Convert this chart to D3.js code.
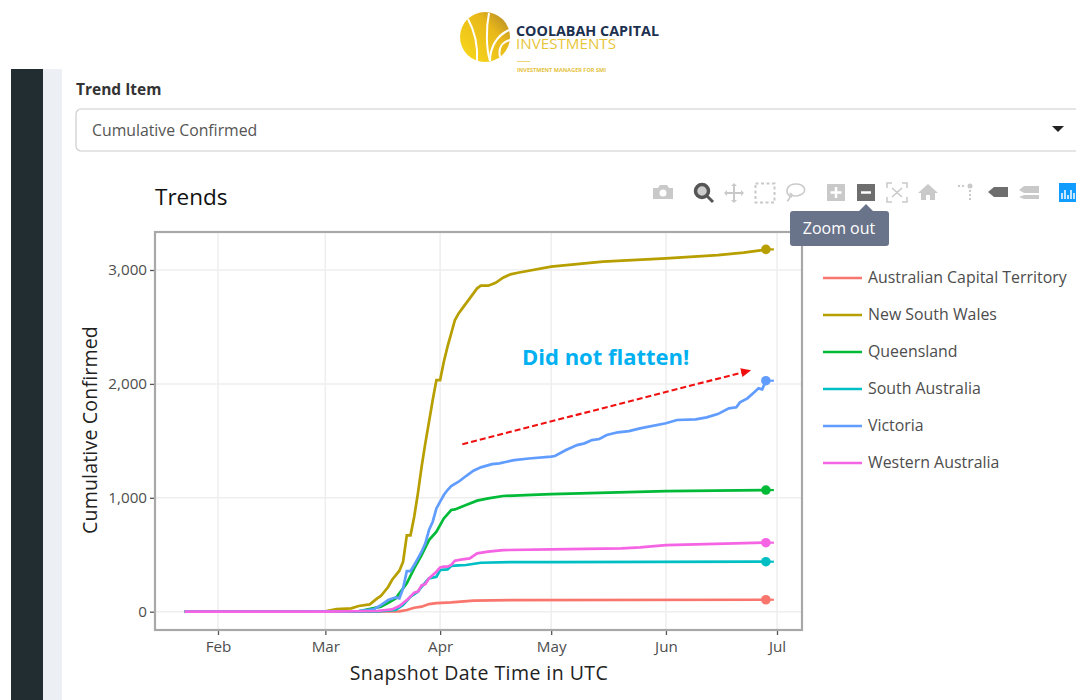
<!DOCTYPE html>
<html>
<head>
<meta charset="utf-8">
<script src="https://cdn.jsdelivr.net/npm/d3@7"></script>
<style>
    html, body { margin: 0; padding: 0; background: #fff; overflow: hidden; }
    text { font-family: "Open Sans", sans-serif; }
</style>
</head>
<body>
<div id="chart"></div>
<script>
// Values, dates are month-day in 2020
var seriesNames = ['Australian Capital Territory', 'New South Wales', 'Queensland', 'South Australia', 'Victoria', 'Western Australia'];
var seriesColors = ['#F8766D', '#B79F00', '#00BA38', '#00BFC4', '#619CFF', '#F564E3'];

var actDays = ['01-23', '03-01', '03-21', '03-23', '03-25', '03-27', '03-29', '03-31', '04-04', '04-10', '04-20', '06-28'];
var actValues = [0, 0, 3, 15, 35, 44, 67, 76, 82, 97, 102, 105];

var nswDays = ['01-23', '03-01', '03-04', '03-08', '03-10', '03-13', '03-15', '03-16', '03-18', '03-19', '03-21', '03-22', '03-23', '03-24', '03-25', '03-26', '03-27', '03-28', '03-29', '03-30', '03-31', '04-01', '04-02', '04-03', '04-04', '04-05', '04-06', '04-07', '04-09', '04-11', '04-12', '04-14', '04-16', '04-18', '04-20', '04-22', '05-01', '05-10', '05-15', '06-01', '06-15', '06-22', '06-27', '06-28'];
var nswValues = [0, 3, 23, 29, 50, 64, 117, 138, 219, 278, 360, 439, 670, 670, 834, 1039, 1273, 1478, 1668, 1858, 2034, 2034, 2195, 2327, 2444, 2561, 2619, 2663, 2751, 2839, 2862, 2862, 2888, 2932, 2962, 2976, 3029, 3058, 3073, 3102, 3131, 3152, 3175, 3181];

var qldDays = ['01-23', '03-01', '03-10', '03-16', '03-18', '03-20', '03-21', '03-23', '03-25', '03-27', '03-29', '03-31', '04-02', '04-04', '04-05', '04-08', '04-11', '04-14', '04-18', '04-24', '05-01', '06-01', '06-28'];
var qldValues = [0, 0, 3, 44, 79, 117, 161, 249, 380, 497, 629, 702, 819, 893, 898, 936, 975, 995, 1016, 1024, 1033, 1059, 1068];

var saDays = ['01-23', '03-01', '03-15', '03-20', '03-22', '03-24', '03-26', '03-27', '03-29', '03-31', '04-01', '04-03', '04-04', '04-06', '04-08', '04-12', '04-20', '05-01', '06-28'];
var saValues = [0, 0, 3, 15, 58, 132, 176, 219, 293, 307, 366, 372, 401, 407, 410, 430, 436, 436, 439];

var vicDays = ['01-23', '03-01', '03-10', '03-14', '03-16', '03-18', '03-20', '03-21', '03-22', '03-23', '03-24', '03-25', '03-26', '03-27', '03-28', '03-29', '03-30', '03-31', '04-01', '04-02', '04-03', '04-04', '04-06', '04-08', '04-10', '04-12', '04-15', '04-17', '04-19', '04-21', '04-25', '05-01', '05-02', '05-05', '05-08', '05-10', '05-12', '05-14', '05-16', '05-19', '05-22', '05-25', '06-01', '06-04', '06-09', '06-12', '06-15', '06-18', '06-20', '06-21', '06-23', '06-25', '06-26', '06-27', '06-28'];
var vicValues = [0, 3, 6, 20, 58, 102, 126, 117, 205, 357, 357, 410, 468, 527, 600, 717, 790, 907, 966, 1024, 1068, 1103, 1141, 1191, 1238, 1267, 1296, 1302, 1317, 1331, 1345, 1361, 1367, 1419, 1463, 1478, 1507, 1516, 1551, 1575, 1586, 1610, 1654, 1683, 1689, 1706, 1735, 1785, 1794, 1838, 1873, 1932, 1961, 1952, 2028];

var waDays = ['01-23', '03-01', '03-15', '03-19', '03-21', '03-23', '03-25', '03-26', '03-27', '03-28', '03-29', '03-31', '04-01', '04-02', '04-03', '04-04', '04-05', '04-07', '04-09', '04-11', '04-14', '04-18', '05-01', '05-20', '05-25', '06-01', '06-28'];
var waValues = [0, 0, 6, 20, 50, 102, 167, 176, 231, 243, 293, 351, 389, 395, 395, 410, 448, 459, 468, 512, 527, 541, 547, 556, 565, 585, 606];

var monthTicks = ['02-01', '03-01', '04-01', '05-01', '06-01', '07-01'];
var monthLabels = ['Feb', 'Mar', 'Apr', 'May', 'Jun', 'Jul'];
var valueTicks = [0, 1000, 2000, 3000];

var arrowDays = ['04-07', '06-24'];
var arrowValues = [1471, 2120];

var parseDay = (d) => d3.timeParse('%Y-%m-%d')('2020-' + d);

var allDays = [actDays, nswDays, qldDays, saDays, vicDays, waDays];
var allValues = [actValues, nswValues, qldValues, saValues, vicValues, waValues];
var series = seriesNames.map((name, i) => ({
    name: name,
    color: seriesColors[i],
    points: allDays[i].map((d, j) => ({date: parseDay(d), value: allValues[i][j]}))
}));

var svg = d3.select('#chart')
    .append('svg')
    .attr('width', 1076)
    .attr('height', 700)
    .style('display', 'block');

// Dashboard around the chart
svg.append('rect').attr('x', 11).attr('y', 69).attr('width', 32).attr('height', 631).attr('fill', '#222d32');
svg.append('rect').attr('x', 43).attr('y', 69).attr('width', 19).attr('height', 631).attr('fill', '#ecf0f5');

svg.append('text').text('Trend Item')
    .attr('x', 76).attr('y', 95)
    .attr('font-size', 15.5).attr('font-weight', 700).attr('fill', '#333');
svg.append('rect')
    .attr('x', 76).attr('y', 109).attr('width', 1040).attr('height', 42).attr('rx', 5)
    .attr('fill', '#fff').attr('stroke', '#ccc').attr('stroke-width', 1.2);
svg.append('text').text('Cumulative Confirmed')
    .attr('x', 92).attr('y', 136)
    .attr('font-size', 15.8).attr('fill', '#555');
svg.append('path').attr('d', 'M1052,126 h12 l-6,6 z').attr('fill', '#222');

svg.append('text').text('Trends')
    .attr('x', 155).attr('y', 205)
    .attr('font-size', 22.5).attr('fill', '#111');

// Logo
var logo = svg.append('g');
var gold = logo.append('defs').append('linearGradient').attr('id', 'gold')
    .attr('x1', 0).attr('x2', 1).attr('y1', 1).attr('y2', 0);
gold.append('stop').attr('offset', '0%').attr('stop-color', '#f9dc1c');
gold.append('stop').attr('offset', '65%').attr('stop-color', '#e8b81a');
gold.append('stop').attr('offset', '100%').attr('stop-color', '#a9822b');
logo.append('circle').attr('cx', 485).attr('cy', 37).attr('r', 25).attr('fill', 'url(#gold)');
['M477,61 C478,45 474,30 468,19', 'M490,61 C486,48 486,28 489,13', 'M490,61 C490,48 496,36 509,30', 'M500,57 C498,48 502,42 510,40'].forEach((d) => {
    logo.append('path').attr('d', d).attr('fill', 'none').attr('stroke', '#fff').attr('stroke-width', 2);
});
logo.append('text').text('COOLABAH CAPITAL')
    .attr('x', 516).attr('y', 36)
    .attr('font-size', 14.5).attr('font-weight', 700).attr('fill', '#1c3050')
    .attr('textLength', 143).attr('lengthAdjust', 'spacingAndGlyphs');
logo.append('text').text('INVESTMENTS')
    .attr('x', 516).attr('y', 49)
    .attr('font-size', 14.5).attr('fill', '#e8c63a')
    .attr('textLength', 100).attr('lengthAdjust', 'spacingAndGlyphs');
logo.append('rect').attr('x', 517).attr('y', 61).attr('width', 13).attr('height', 1).attr('fill', '#ecd67a');
logo.append('text').text('INVESTMENT MANAGER FOR SMI')
    .attr('x', 517).attr('y', 72)
    .attr('font-size', 5).attr('font-weight', 700).attr('fill', '#e3c23c')
    .attr('textLength', 89).attr('lengthAdjust', 'spacingAndGlyphs');

// Scales
var x = d3.scaleTime().domain([parseDay('02-01'), parseDay('07-01')]).range([218, 777]);
var y = d3.scaleLinear().domain([0, 3000]).range([611.7, 270]);

var plot = {left: 155, right: 802, top: 232, bottom: 630};

// Grid lines
svg.append('g').selectAll('line')
    .data(valueTicks)
    .enter()
    .append('line')
    .attr('x1', plot.left).attr('x2', plot.right)
    .attr('y1', (d) => y(d)).attr('y2', (d) => y(d))
    .attr('stroke', '#eeeeee').attr('stroke-width', 1.5);
svg.append('g').selectAll('line')
    .data(monthTicks)
    .enter()
    .append('line')
    .attr('x1', (d) => x(parseDay(d))).attr('x2', (d) => x(parseDay(d)))
    .attr('y1', plot.top).attr('y2', plot.bottom)
    .attr('stroke', '#eeeeee').attr('stroke-width', 1.5);

// Axes
var xAxis = d3.axisBottom(x)
    .tickValues(monthTicks.map(parseDay))
    .tickFormat((d, i) => monthLabels[i])
    .tickSize(5).tickPadding(6);
var yAxis = d3.axisLeft(y)
    .tickValues(valueTicks)
    .tickFormat(d3.format(','))
    .tickSize(5).tickPadding(3);

var xGroup = svg.append('g').attr('transform', 'translate(0,' + plot.bottom + ')').call(xAxis);
var yGroup = svg.append('g').attr('transform', 'translate(' + plot.left + ',0)').call(yAxis);
[xGroup, yGroup].forEach((g) => {
    g.select('.domain').remove();
    g.selectAll('line').attr('stroke', '#555').attr('stroke-width', 1.3);
    g.selectAll('text').attr('font-size', 15.2).attr('fill', '#4d4d4d').style('font-family', '"Open Sans", sans-serif');
});

svg.append('text').text('Snapshot Date Time in UTC')
    .attr('x', 479).attr('y', 680)
    .attr('text-anchor', 'middle')
    .attr('font-size', 19.5).attr('letter-spacing', 0.45).attr('fill', '#222');
svg.append('text').text('Cumulative Confirmed')
    .attr('transform', 'translate(97,430) rotate(-90)')
    .attr('text-anchor', 'middle')
    .attr('font-size', 19.5).attr('letter-spacing', 0.2).attr('fill', '#222');

// Lines with end markers
var line = d3.line().x((d) => x(d.date)).y((d) => y(d.value));

svg.append('g').selectAll('path')
    .data(series)
    .enter()
    .append('path')
    .attr('d', (d) => line(d.points))
    .attr('fill', 'none')
    .attr('stroke', (d) => d.color)
    .attr('stroke-width', 2.7);

var ends = svg.append('g').selectAll('g')
    .data(series)
    .enter()
    .append('g')
    .attr('transform', (d) => {
        var last = d.points[d.points.length - 1];
        return 'translate(' + x(last.date) + ',' + y(last.value) + ')';
    });
ends.append('circle').attr('r', 4.8).attr('fill', (d) => d.color);
ends.append('line').attr('x1', 0).attr('x2', 8)
    .attr('stroke', (d) => d.color).attr('stroke-width', 2.2);

// Frame on top of the grid
svg.append('rect')
    .attr('x', plot.left).attr('y', plot.top)
    .attr('width', plot.right - plot.left).attr('height', plot.bottom - plot.top)
    .attr('fill', 'none').attr('stroke', '#a8a8a8').attr('stroke-width', 2.2);

// Legend
var legend = svg.append('g').selectAll('g')
    .data(series)
    .enter()
    .append('g')
    .attr('transform', (d, i) => 'translate(823,' + (278 + i*37) + ')');
legend.append('line').attr('x1', 0).attr('x2', 39)
    .attr('stroke', (d) => d.color).attr('stroke-width', 2.6);
legend.append('text').text((d) => d.name)
    .attr('x', 45).attr('y', 5)
    .attr('font-size', 15.9).attr('fill', '#4d4d4d');

// Annotation
svg.append('text').text('Did not flatten!')
    .attr('x', 522).attr('y', 365)
    .attr('font-size', 22).attr('font-weight', 700).attr('fill', '#00b0f0');
var ax = arrowDays.map((d) => x(parseDay(d)));
var ay = arrowValues.map((d) => y(d));
var angle = Math.atan2(ay[1] - ay[0], ax[1] - ax[0]) * 180 / Math.PI;
svg.append('line')
    .attr('x1', ax[0]).attr('y1', ay[0])
    .attr('x2', ax[1] - 8).attr('y2', ay[1] + 2)
    .attr('stroke', '#f01010').attr('stroke-width', 2.1).attr('stroke-dasharray', '6,3');
svg.append('path')
    .attr('d', 'M0,0 L-10,-4.5 L-10,4.5 Z')
    .attr('transform', 'translate(' + ax[1] + ',' + ay[1] + ') rotate(' + angle + ')')
    .attr('fill', '#f01010');

// Toolbar
var bar = svg.append('g');
var light = '#c9c9c9';
var dark = '#6e6e6e';
bar.append('path').attr('d', 'M653,188 h5 l2,-3 h7 l2,3 h4 v11 h-20 z').attr('fill', light);
bar.append('circle').attr('cx', 663).attr('cy', 193).attr('r', 3.5).attr('fill', '#fff');
bar.append('circle').attr('cx', 702).attr('cy', 191).attr('r', 6.5).attr('fill', '#ccc').attr('stroke', '#555').attr('stroke-width', 3.5);
bar.append('line').attr('x1', 707).attr('y1', 196).attr('x2', 713).attr('y2', 202).attr('stroke', '#555').attr('stroke-width', 3);
bar.append('path').attr('d', 'M734,185 v16 M726,193 h16').attr('stroke', light).attr('stroke-width', 2);
bar.append('path').attr('d', 'M734,183 l-3,3 h6 z M734,203 l-3,-3 h6 z M724,193 l3,-3 v6 z M744,193 l-3,-3 v6 z').attr('fill', light);
bar.append('rect').attr('x', 755.5).attr('y', 183.5).attr('width', 19).attr('height', 19).attr('fill', 'none').attr('stroke', light).attr('stroke-width', 2).attr('stroke-dasharray', '3,2.5');
bar.append('path').attr('d', 'M792,197 C783,193 787,184 796,184 C805,184 808,192 800,195 C796,197 792,196 790,193 M790,195 C790,198 789,200 787,201').attr('fill', 'none').attr('stroke', light).attr('stroke-width', 1.6);
bar.append('rect').attr('x', 827).attr('y', 184).attr('width', 18).attr('height', 17).attr('fill', light);
bar.append('path').attr('d', 'M836,187 v11 M830.5,192.5 h11').attr('stroke', '#fff').attr('stroke-width', 2.5);
bar.append('rect').attr('x', 857).attr('y', 184).attr('width', 18).attr('height', 17).attr('fill', dark);
bar.append('path').attr('d', 'M861,192.5 h10').attr('stroke', '#fff').attr('stroke-width', 2.5);
bar.append('path').attr('d', 'M887,188 v-5 h5 M902,183 h5 v5 M907,197 v5 h-5 M892,202 h-5 v-5 M892,188 l10,9 M902,188 l-10,9').attr('fill', 'none').attr('stroke', light).attr('stroke-width', 1.5);
bar.append('path').attr('d', 'M918,193 l10,-9 l10,9 h-3 v7 h-5 v-5 h-4 v5 h-5 v-7 z').attr('fill', light);
bar.append('path').attr('d', 'M958,186 h2 M962,186 h2 M970,190 v2 M970,194 v2 M970,198 v2').attr('stroke', light).attr('stroke-width', 2);
bar.append('circle').attr('cx', 970).attr('cy', 186).attr('r', 2.5).attr('fill', light);
bar.append('path').attr('d', 'M988,192 l6,-5 h14 v10 h-14 z').attr('fill', dark);
bar.append('path').attr('d', 'M1019,190 l5,-4 h15 v7 h-15 z M1024,195 h15 v4 h-15 l-5,-2 z').attr('fill', light);
bar.append('rect').attr('x', 1059).attr('y', 183).attr('width', 17).attr('height', 19).attr('fill', '#119dff');
bar.append('path').attr('d', 'M1062,193 v6 M1065,190 v9 M1068,195 v4 M1071,190 v9 M1074,193 v6').attr('stroke', '#fff').attr('stroke-width', 1.5);

// Tooltip of the hovered button
svg.append('path')
    .attr('d', 'M793,211 H859 L866,204 L873,211 H886 Q889,211 889,214 V243 Q889,246 886,246 H793 Q790,246 790,243 V214 Q790,211 793,211 Z')
    .attr('fill', '#69738a');
svg.append('text').text('Zoom out')
    .attr('x', 839).attr('y', 234)
    .attr('text-anchor', 'middle')
    .attr('font-size', 16).attr('fill', '#fff');
</script>
</body>
</html>
